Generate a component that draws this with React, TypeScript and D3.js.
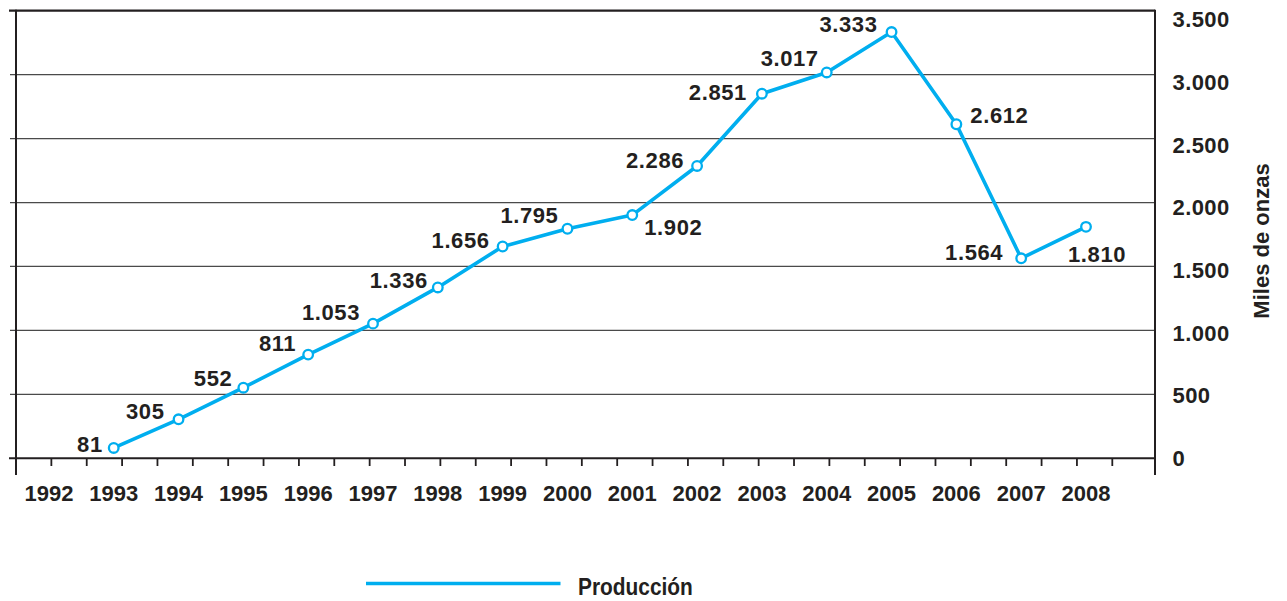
import React from "react";
import * as d3 from "d3";

const years = [1992, 1993, 1994, 1995, 1996, 1997, 1998, 1999, 2000, 2001, 2002, 2003, 2004, 2005, 2006, 2007, 2008];
const prodYears = [1993, 1994, 1995, 1996, 1997, 1998, 1999, 2000, 2001, 2002, 2003, 2004, 2005, 2006, 2007, 2008];
const production = [81, 305, 552, 811, 1053, 1336, 1656, 1795, 1902, 2286, 2851, 3017, 3333, 2612, 1564, 1810];
const yTicks = [0, 500, 1000, 1500, 2000, 2500, 3000, 3500];
const seriesName = "Producción";
const axisTitle = "Miles de onzas";

// label placement relative to its point: [anchor, dx, dy(center)]
const labelPlace: [string, number, number][] = [
  ["end", -11, -4],
  ["end", -14, -8],
  ["end", -11, -10],
  ["end", -12, -11],
  ["end", -13, -11.5],
  ["end", -10, -7.5],
  ["end", -13, -6],
  ["end", -9, -14],
  ["start", 12, 12],
  ["end", -13, -5.5],
  ["end", -15, -1.5],
  ["end", -8, -14.5],
  ["end", -14, -8],
  ["start", 14, -9.5],
  ["end", -18, -6.5],
  ["start", -18, 27.5],
];

const fmt = (v: number) => d3.format(",")(v).replace(/,/g, ".");

const W = 1287;
const H = 601;
const LEFT = 16;
const RIGHT = 1155;
const TOP = 10.7;
const BOTTOM = 458.3;
const CYAN = "#00AEEF";
const INK = "#231F20";
const FONT = "'Liberation Sans', Arial, sans-serif";

export default function App() {
  const x = d3.scalePoint<number>().domain(years).range([48.9, 1086]);
  const y = d3.scaleLinear().domain([0, 3500]).range([BOTTOM, TOP]);
  const yLab = d3.scaleLinear().domain([0, 3500]).range([458, 19.5]);
  const minor = d3.scaleLinear().domain([0, 31]).range([LEFT, 1112.3]);
  const minorTicks = d3.range(1, 32);

  const pts = prodYears.map((yr, i) => ({ yr, v: production[i], px: x(yr) as number, py: y(production[i]) }));
  const line = d3.line<{ px: number; py: number }>().x((d) => d.px).y((d) => d.py);

  return (
    <svg width={W} height={H} style={{ position: "absolute", left: 0, top: 0, background: "#fff" }} fontFamily={FONT}>
      {yTicks.filter((t) => t > 0 && t < 3500).map((t) => (
        <line key={t} x1={10} x2={RIGHT} y1={y(t)} y2={y(t)} stroke="#4a4a4a" strokeWidth={1.3} />
      ))}
      <line x1={9} x2={RIGHT} y1={TOP} y2={TOP} stroke={INK} strokeWidth={2.2} />
      <line x1={9} x2={RIGHT} y1={BOTTOM} y2={BOTTOM} stroke={INK} strokeWidth={2} />
      <line x1={LEFT} x2={LEFT} y1={TOP - 1} y2={475} stroke={INK} strokeWidth={2} />
      <line x1={RIGHT} x2={RIGHT} y1={TOP - 1} y2={475} stroke={INK} strokeWidth={2} />
      {minorTicks.map((i) => (
        <line key={i} x1={minor(i)} x2={minor(i)} y1={BOTTOM} y2={466} stroke={INK} strokeWidth={1.8} />
      ))}
      {yTicks.map((t) => (
        <text key={t} x={1172.5} y={yLab(t) + 7.8} fontSize={22} fontWeight="bold" fill={INK} letterSpacing={0.4}>
          {fmt(t)}
        </text>
      ))}
      <text
        transform={`translate(1269,241) rotate(-90)`}
        textAnchor="middle"
        fontSize={22}
        fontWeight="bold"
        fill={INK}
      >
        {axisTitle}
      </text>
      {years.map((yr) => (
        <text key={yr} x={x(yr)} y={500.7} textAnchor="middle" fontSize={22} fontWeight="bold" fill={INK}>
          {yr}
        </text>
      ))}
      <path d={line(pts) || ""} fill="none" stroke={CYAN} strokeWidth={3.6} strokeLinejoin="round" />
      {pts.map((p) => (
        <circle key={p.yr} cx={p.px} cy={p.py} r={4.8} fill="#fff" stroke={CYAN} strokeWidth={2.3} />
      ))}
      {pts.map((p, i) => {
        const [anchor, dx, dy] = labelPlace[i];
        return (
          <text
            key={"l" + p.yr}
            x={p.px + dx}
            y={p.py + dy + 7.8}
            textAnchor={anchor}
            fontSize={22}
            fontWeight="bold"
            fill={INK}
            letterSpacing={0.6}
          >
            {fmt(p.v)}
          </text>
        );
      })}
      <line x1={366} x2={560.5} y1={583.5} y2={583.5} stroke={CYAN} strokeWidth={3.6} />
      <text transform="translate(578,595) scale(0.87,1)" fontSize={24} fontWeight="bold" fill={INK}>
        {seriesName}
      </text>
    </svg>
  );
}
